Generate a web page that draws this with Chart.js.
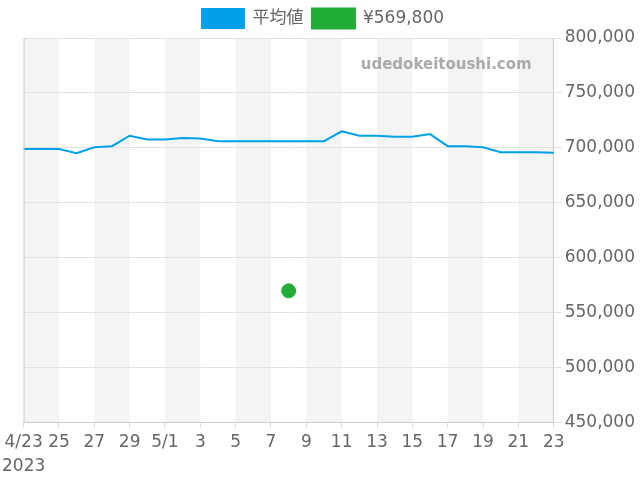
<!DOCTYPE html>
<html lang="ja">
<head>
<meta charset="UTF-8">
<title>平均値</title>
<script src="https://cdn.jsdelivr.net/npm/chart.js"></script>
<style>
  html, body { margin: 0; padding: 0; background: #fff; }
  #wrap { width: 640px; height: 480px; }
</style>
</head>
<body>
<div id="wrap"><canvas id="priceChart"></canvas></div>
<script>
// 日付 (2023/4/23 - 5/23)
const dates = ['4/23','4/24','4/25','4/26','4/27','4/28','4/29','4/30',
  '5/1','5/2','5/3','5/4','5/5','5/6','5/7','5/8','5/9','5/10','5/11','5/12',
  '5/13','5/14','5/15','5/16','5/17','5/18','5/19','5/20','5/21','5/22','5/23'];
// 平均値
const avgPrice = [699000, 699000, 699000, 695000, 700500, 701500, 711000, 707500,
  707500, 709000, 708500, 706000, 706000, 706000, 706000, 706000, 706000, 706000,
  715000, 711000, 711000, 710000, 710000, 712500, 701500, 701500, 700500,
  696000, 696000, 696000, 695500];
// 単発の価格
const dealPrice = [null, null, null, null, null, null, null, null, null, null,
  null, null, null, null, null, 569800, null, null, null, null, null, null, null,
  null, null, null, null, null, null, null, null];
const dealLabel = '¥569,800';
// 目盛ラベル (2日おき)
const tickLabels = [['4/23', '2023'], '25', '27', '29', '5/1', '3', '5', '7', '9',
  '11', '13', '15', '17', '19', '21', '23'];

const FONT = "'DejaVu Sans', 'Noto Sans CJK JP', sans-serif";

// 縞模様の背景と透かし
const bgPlugin = {
  id: 'bands',
  beforeDraw: chart => {
    const {ctx, chartArea: {top, bottom}, scales: {x}} = chart;
    ctx.save();
    ctx.fillStyle = '#f4f4f4';
    for (let i = 0; i + 2 < dates.length; i += 4) {
      const x0 = x.getPixelForValue(i);
      const x1 = x.getPixelForValue(i + 2);
      ctx.fillRect(x0, top, x1 - x0, bottom - top);
    }
    ctx.restore();
  },
  afterDatasetsDraw: chart => {
    const {ctx, chartArea: {top, left, right, bottom}} = chart;
    ctx.save();
    ctx.font = "bold 15px " + FONT;
    ctx.fillStyle = '#aaaaaa';
    ctx.textAlign = 'right';
    ctx.textBaseline = 'middle';
    ctx.fillText('udedokeitoushi.com', right - 22, top + 27);
    // 左の枠線
    ctx.strokeStyle = '#cccccc';
    ctx.lineWidth = 1;
    ctx.beginPath();
    ctx.moveTo(left + 0.5, bottom);
    ctx.lineTo(left + 0.5, top);
    ctx.stroke();
    ctx.restore();
  }
};

new Chart(document.getElementById('priceChart'), {
  type: 'line',
  data: {
    labels: dates,
    datasets: [{
      label: '平均値',
      data: avgPrice,
      borderColor: '#00a0e9',
      backgroundColor: '#00a0e9',
      borderWidth: 2,
      pointRadius: 0,
      tension: 0
    }, {
      label: dealLabel,
      data: dealPrice,
      showLine: false,
      borderColor: '#22ac38',
      backgroundColor: '#22ac38',
      pointRadius: 7,
      pointHoverRadius: 7
    }]
  },
  options: {
    responsive: true,
    maintainAspectRatio: false,
    animation: false,
    layout: { padding: { left: 8, right: 2, top: 0, bottom: 0 } },
    plugins: {
      legend: {
        labels: {
          boxWidth: 42,
          boxHeight: 19,
          color: '#666',
          font: { size: 17, family: FONT },
          padding: 9
        }
      },
      tooltip: { enabled: false }
    },
    scales: {
      x: {
        offset: false,
        grid: {
          drawOnChartArea: false,
          color: '#dddddd',
          tickLength: 6
        },
        border: { color: '#cccccc' },
        ticks: {
          autoSkip: false,
          maxRotation: 0,
          color: '#666',
          font: { size: 17, family: FONT, lineHeight: 1.4 },
          padding: 2,
          callback: (v, i) => (i % 2 === 0 ? tickLabels[i / 2] : null)
        }
      },
      y: {
        position: 'right',
        min: 450000,
        max: 800000,
        grid: { color: '#e2e2e2', tickLength: 8 },
        border: { color: '#cccccc' },
        ticks: {
          stepSize: 50000,
          color: '#666',
          font: { size: 17, family: FONT },
          padding: 3,
          callback: v => v.toLocaleString('en-US')
        }
      }
    }
  },
  plugins: [bgPlugin]
});
</script>
</body>
</html>
